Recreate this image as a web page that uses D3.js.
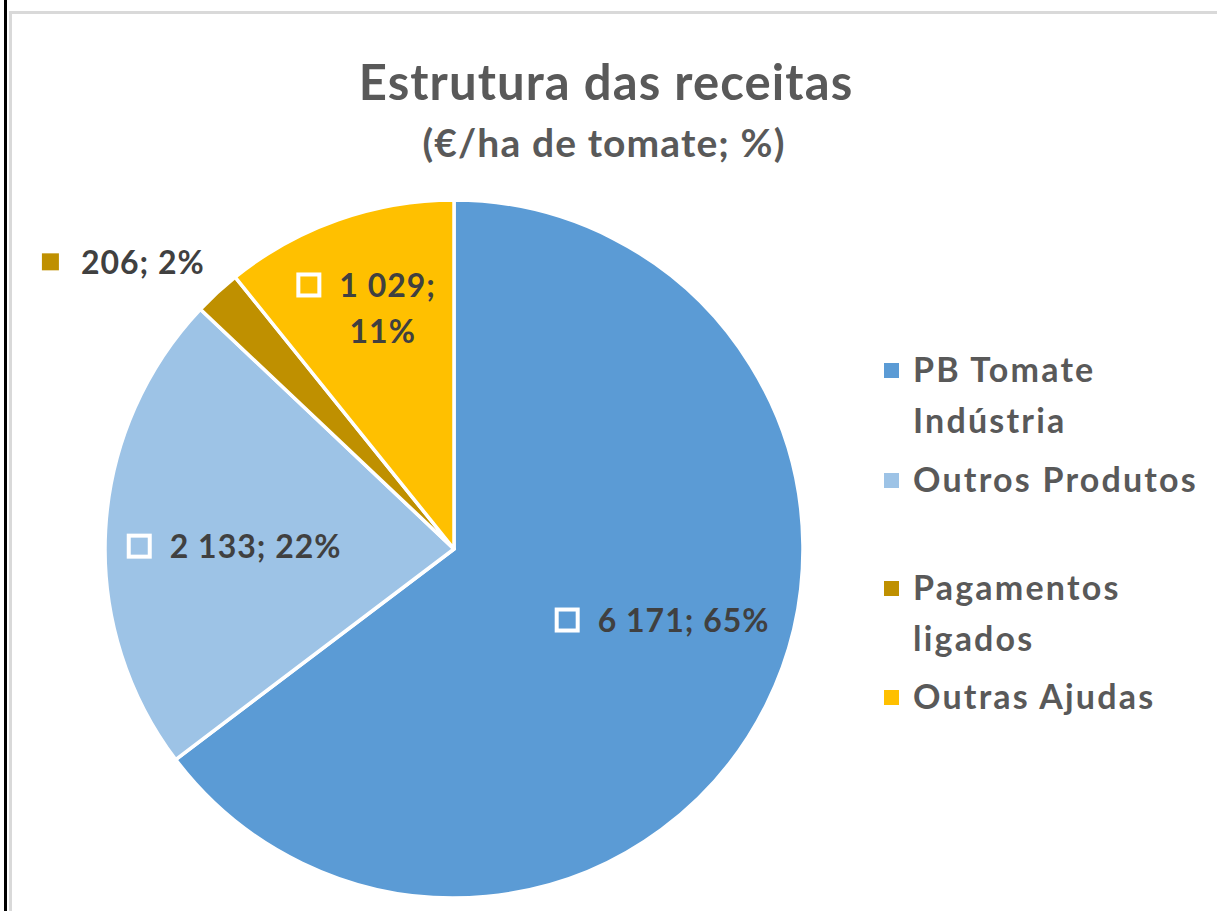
<!DOCTYPE html>
<html>
<head>
<meta charset="utf-8">
<script src="https://cdn.jsdelivr.net/npm/d3@7"></script>
<style>
  body { margin: 0; background: #fff; }
  svg text { font-family: Lato, "Open Sans", sans-serif; font-weight: bold; }
</style>
</head>
<body>
<div id="chart"></div>
<script>
const categories = ["PB Tomate Indústria", "Outros Produtos", "Pagamentos ligados", "Outras Ajudas"];
const values = [6171, 2133, 206, 1029];
const colors = ["#5B9BD5", "#9DC3E6", "#BF9000", "#FFC000"];
const legendLines = [["PB Tomate", "Indústria"], ["Outros Produtos"], ["Pagamentos", "ligados"], ["Outras Ajudas"]];

const W = 1217, H = 911;
const cx = 454, cy = 549, r = 349;

const svg = d3.select("#chart").append("svg")
    .attr("width", W)
    .attr("height", H);

// frame lines
svg.append("rect").attr("x", 4).attr("y", 0).attr("width", 3).attr("height", H).attr("fill", "#000");
svg.append("rect").attr("x", 9).attr("y", 11).attr("width", W - 9).attr("height", 3).attr("fill", "#d9d9d9");
svg.append("rect").attr("x", 9).attr("y", 11).attr("width", 3).attr("height", H - 11).attr("fill", "#d9d9d9");

svg.append("text")
    .attr("x", 606).attr("y", 100)
    .attr("text-anchor", "middle")
    .attr("font-size", 49)
    .attr("letter-spacing", 1.1)
    .attr("fill", "#595959")
    .text("Estrutura das receitas");

svg.append("text")
    .attr("x", 604).attr("y", 157)
    .attr("text-anchor", "middle")
    .attr("font-size", 39)
    .attr("letter-spacing", 1.1)
    .attr("fill", "#595959")
    .text("(€/ha de tomate; %)");

const total = d3.sum(values);
const pie = d3.pie().sort(null).value(d => d);
const arcs = pie(values);
const arc = d3.arc().innerRadius(0).outerRadius(r);

const g = svg.append("g").attr("transform", `translate(${cx},${cy})`);

g.selectAll("path.slice")
    .data(arcs)
    .enter().append("path")
    .attr("class", "slice")
    .attr("d", arc)
    .attr("fill", (d, i) => colors[i])
    .attr("stroke", "#fff")
    .attr("stroke-width", 3.5)
    .attr("stroke-linejoin", "round");

// data labels (best-fit style placement)
const fmt = v => d3.format(",")(v).replace(/,/g, " ");
const labelRadius = [0.63, 0.63, 1.12, 0.735];
const labelShift = [-7.6, -2.4, 0, -0.6]; // degrees
const labelFont = 32;

arcs.forEach((d, i) => {
    const a = (d.startAngle + d.endAngle) / 2 + labelShift[i] * Math.PI / 180;
    const rr = r * labelRadius[i];
    let px = Math.sin(a) * rr, py = -Math.cos(a) * rr;
    const pct = Math.round(values[i] / total * 100) + "%";
    const lines = i === 3 ? [fmt(values[i]) + ";", pct] : [fmt(values[i]) + "; " + pct];
    const lg = g.append("g");
    const lh = 46;
    const t = lg.selectAll("text").data(lines).enter().append("text")
        .attr("font-size", labelFont)
        .attr("letter-spacing", 1)
        .attr("fill", "#404040")
        .attr("text-anchor", "middle")
        .attr("dy", (l, k) => (k - (lines.length - 1) / 2) * lh + 12)
        .text(l => l);
    // marker before first line
    const w0 = t.nodes()[0].getComputedTextLength();
    const ms = 21, sw = 4, gap = 18;
    const blockW = ms + sw + gap + w0;
    const textX = (ms + sw + gap) / 2;
    t.attr("x", (l, k) => k === 0 ? textX : textX - 5);
    lg.append("rect")
        .attr("x", -blockW / 2 + sw / 2)
        .attr("y", (0 - (lines.length - 1) / 2) * lh - ms / 2)
        .attr("width", ms).attr("height", ms)
        .attr("fill", colors[i])
        .attr("stroke", "#fff")
        .attr("stroke-width", sw);
    if (i === 2) px = px + 16 - blockW / 2;
    lg.attr("transform", `translate(${px},${py})`);
});

// legend
const legendY = [382, 492, 600, 709];
const lgd = svg.append("g");
categories.forEach((c, i) => {
    lgd.append("rect")
        .attr("x", 884).attr("y", legendY[i] - 19)
        .attr("width", 15).attr("height", 15)
        .attr("fill", colors[i]);
    legendLines[i].forEach((l, k) => {
        lgd.append("text")
            .attr("x", 913).attr("y", legendY[i] + k * 51)
            .attr("font-size", 34)
            .attr("letter-spacing", 2.2)
            .attr("fill", "#595959")
            .text(l);
    });
});
</script>
</body>
</html>
